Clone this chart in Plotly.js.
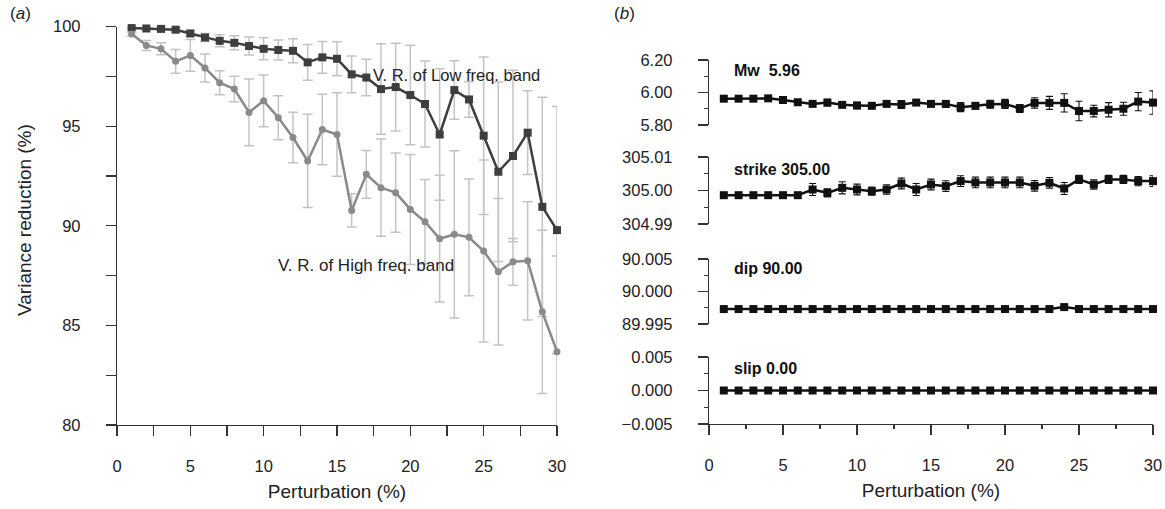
<!DOCTYPE html>
<html><head><meta charset="utf-8">
<script src="https://cdn.plot.ly/plotly-3.0.1.min.js"></script>
<style>html,body{margin:0;padding:0;background:#fff}#chart{width:1165px;height:509px}</style>
</head><body><div id="chart"></div>
<script>
// ---------- data ----------
const perturbation = [1,2,3,4,5,6,7,8,9,10,11,12,13,14,15,16,17,18,19,20,21,22,23,24,25,26,27,28,29,30];

// panel (a): variance reduction (%)
const lowVR   = [99.92,99.90,99.88,99.84,99.65,99.45,99.28,99.18,99.02,98.88,98.82,98.78,98.20,98.45,98.38,97.60,97.44,96.86,96.96,96.56,96.11,94.58,96.81,96.34,94.52,92.71,93.50,94.67,90.95,89.78];
const lowErr  = [0.05,0.05,0.08,0.10,0.15,0.20,0.30,0.35,0.45,0.55,0.50,0.60,0.90,0.80,0.85,0.92,0.92,2.27,2.20,2.50,2.16,3.30,1.47,0.89,3.95,4.50,4.30,2.10,5.50,6.20];
const highVR  = [99.62,99.05,98.88,98.25,98.55,97.92,97.18,96.86,95.69,96.27,95.42,94.43,93.25,94.83,94.58,90.77,92.58,91.91,91.66,90.82,90.20,89.35,89.57,89.42,88.73,87.69,88.19,88.24,85.68,83.68];
const highErr = [0.10,0.25,0.30,0.60,0.80,0.70,0.60,0.64,1.67,1.30,1.10,1.27,2.34,1.77,2.10,0.83,1.20,2.44,1.99,2.76,2.12,3.18,4.20,2.93,4.57,3.68,1.17,2.97,4.10,4.80];

// panel (b): source parameters
const mwVal  = [5.962,5.962,5.962,5.964,5.954,5.940,5.930,5.938,5.924,5.920,5.918,5.930,5.926,5.938,5.930,5.930,5.910,5.918,5.928,5.930,5.902,5.936,5.936,5.936,5.886,5.886,5.894,5.900,5.944,5.938];
const mwErr  = [0,0,0,0,0,0,0,0.020,0.014,0.020,0.016,0.010,0.024,0.016,0.016,0.020,0.028,0.020,0.024,0.028,0.024,0.032,0.040,0.056,0.060,0.036,0.044,0.040,0.056,0.072];
const strikeVal = [304.9986,304.9986,304.9986,304.9986,304.9986,304.9986,305.0003,304.9993,305.0008,305.0003,304.9998,305.0003,305.0021,305.0003,305.0018,305.0013,305.0028,305.0024,305.0024,305.0024,305.0024,305.0014,305.0023,305.0006,305.0033,305.0018,305.0033,305.0033,305.0028,305.0028];
const strikeErr = [0,0,0,0,0,0,0.0018,0.0012,0.0018,0.0016,0.0012,0.0014,0.0016,0.0018,0.0016,0.0016,0.0016,0.0016,0.0016,0.0016,0.0016,0.0016,0.0016,0.0018,0.0012,0.0014,0.0012,0.0012,0.0014,0.0016];
const dipVal  = [89.9973,89.9973,89.9973,89.9973,89.9973,89.9973,89.9973,89.9973,89.9973,89.9973,89.9973,89.9973,89.9973,89.9973,89.9973,89.9973,89.9973,89.9973,89.9973,89.9973,89.9973,89.9973,89.9973,89.9976,89.9973,89.9973,89.9973,89.9973,89.9973,89.9973];
const slipVal = [0,0,0,0,0,0,0,0,0,0,0,0,0,0,0,0,0,0,0,0,0,0,0,0,0,0,0,0,0,0];

const mwTicks = [5.8, 6.0, 6.2],         mwText = ["5.80","6.00","6.20"];
const strikeTicks = [304.99, 305.00, 305.01], strikeText = ["304.99","305.00","305.01"];
const dipTicks = [89.995, 90.000, 90.005], dipText = ["89.995","90.000","90.005"];
const slipTicks = [-0.005, 0, 0.005],   slipText = ["\u22120.005","0.000","0.005"];
const xTicksA = [0,5,10,15,20,25,30];
const yTicksA = [80,85,90,95,100];

// ---------- layout helpers ----------
const W = 1165, H = 509;
const fx = p => p / W;
const fy = p => (H - p) / H;
const FONT = "Liberation Sans, Arial, sans-serif";
const AX = "#333333";

const errA = (arr) => ({type:"data", array: arr, visible:true, color:"#c3c3c3", thickness:1.5, width:5});
const errB = (arr) => ({type:"data", array: arr, visible:true, color:"#111111", thickness:1.1, width:3.5});

const traces = [
  {x: perturbation, y: lowVR, error_y: errA(lowErr), mode:"lines+markers", cliponaxis:false,
   line:{color:"#3e3e3e", width:2.5}, marker:{symbol:"square", size:8, color:"#3e3e3e"}, xaxis:"x", yaxis:"y"},
  {x: perturbation, y: highVR, error_y: errA(highErr), mode:"lines+markers", cliponaxis:false,
   line:{color:"#8a8a8a", width:2.5}, marker:{symbol:"circle", size:7, color:"#8a8a8a"}, xaxis:"x", yaxis:"y"},
  {x: perturbation, y: mwVal, error_y: errB(mwErr), mode:"lines+markers", cliponaxis:false,
   line:{color:"#111", width:2.5}, marker:{symbol:"square", size:8, color:"#111"}, xaxis:"x2", yaxis:"y2"},
  {x: perturbation, y: strikeVal, error_y: errB(strikeErr), mode:"lines+markers", cliponaxis:false,
   line:{color:"#111", width:2.5}, marker:{symbol:"square", size:8, color:"#111"}, xaxis:"x3", yaxis:"y3"},
  {x: perturbation, y: dipVal, mode:"lines+markers", cliponaxis:false,
   line:{color:"#111", width:2.5}, marker:{symbol:"square", size:8, color:"#111"}, xaxis:"x4", yaxis:"y4"},
  {x: perturbation, y: slipVal, mode:"lines+markers", cliponaxis:false,
   line:{color:"#111", width:2.5}, marker:{symbol:"square", size:8, color:"#111"}, xaxis:"x5", yaxis:"y5"}
];

const tickFont = {family: FONT, size: 16.5, color:"#222"};
const hiddenX = (anchor) => ({domain:[fx(709), fx(1153)], range:[0,30], visible:false, anchor:anchor, fixedrange:true});
const yB = (top, bot, range, tv, tt, minorDtick, minorTick0) => ({
  domain:[fy(bot), fy(top)], range: range, tickmode:"array", tickvals: tv, ticktext: tt,
  showline:true, linecolor:AX, linewidth:1.2, ticks:"outside", ticklen:10, tickcolor:AX, tickwidth:1.2,
  showgrid:false, zeroline:false, tickfont: tickFont, ticklabelstandoff: 22,
  minor:{ticks:"outside", ticklen:4, tickcolor:AX, tickwidth:1.2, dtick:minorDtick, tick0:minorTick0, showgrid:false}
});

const layout = {
  width: W, height: H, margin:{l:0,r:0,t:0,b:0}, showlegend:false,
  paper_bgcolor:"#fff", plot_bgcolor:"rgba(0,0,0,0)", font:{family:FONT, color:"#222"},
  xaxis:{domain:[fx(117), fx(557)], range:[0,30], anchor:"y", tickmode:"array", tickvals:xTicksA,
    showline:true, linecolor:AX, linewidth:1.2, ticks:"outside", ticklen:10, tickcolor:AX, tickwidth:1.2,
    showgrid:false, zeroline:false, tickfont:tickFont, ticklabelstandoff: 16,
    minor:{ticks:"outside", ticklen:10, tickcolor:AX, tickwidth:1.2, dtick:2.5, tick0:0, showgrid:false},
    title:{text:"Perturbation (%)", font:{family:FONT, size:19, color:"#222"}, standoff:10}},
  yaxis:{domain:[fy(425), fy(26.5)], range:[80,100], anchor:"x", tickmode:"array", tickvals:yTicksA,
    showline:true, linecolor:AX, linewidth:1.2, ticks:"outside", ticklen:10, tickcolor:AX, tickwidth:1.2,
    showgrid:false, zeroline:false, tickfont:tickFont, ticklabelstandoff: 22,
    minor:{ticks:"outside", ticklen:10, tickcolor:AX, tickwidth:1.2, dtick:2.5, tick0:80, showgrid:false}},
  xaxis2: hiddenX("y2"), xaxis3: hiddenX("y3"), xaxis4: hiddenX("y4"),
  xaxis5:{domain:[fx(709), fx(1153)], range:[0,30], anchor:"y5", tickmode:"array", tickvals:xTicksA,
    showline:true, linecolor:AX, linewidth:1.2, ticks:"outside", ticklen:10, tickcolor:AX, tickwidth:1.2,
    showgrid:false, zeroline:false, tickfont:tickFont, ticklabelstandoff: 16,
    minor:{ticks:"outside", ticklen:4, tickcolor:AX, tickwidth:1.2, dtick:2.5, tick0:0, showgrid:false},
    title:{text:"Perturbation (%)", font:{family:FONT, size:19, color:"#222"}, standoff:10}},
  yaxis2: Object.assign(yB(60,125,[5.8,6.2], mwTicks, mwText, 0.1, 5.8), {anchor:"x2"}),
  yaxis3: Object.assign(yB(157,224,[304.99,305.01], strikeTicks, strikeText, 0.005, 304.99), {anchor:"x3"}),
  yaxis4: Object.assign(yB(259,324,[89.995,90.005], dipTicks, dipText, 0.0025, 89.995), {anchor:"x4"}),
  yaxis5: Object.assign(yB(357,424,[-0.005,0.005], slipTicks, slipText, 0.0025, -0.005), {anchor:"x5"}),
  annotations:[
    {xref:"paper", yref:"paper", x:fx(8), y:fy(14), xanchor:"left", yanchor:"middle", showarrow:false,
     text:"(<i>a</i>)", font:{family:FONT, size:17, color:"#222"}},
    {xref:"paper", yref:"paper", x:fx(612), y:fy(14), xanchor:"left", yanchor:"middle", showarrow:false,
     text:"(<i>b</i>)", font:{family:FONT, size:17, color:"#222"}},
    {xref:"paper", yref:"paper", x:fx(24), y:fy(220), xanchor:"center", yanchor:"middle", showarrow:false,
     textangle:-90, text:"Variance reduction (%)", font:{family:FONT, size:19, color:"#222"}},
    {xref:"paper", yref:"paper", x:fx(456), y:fy(75), xanchor:"center", yanchor:"middle", showarrow:false,
     text:"V. R. of Low freq. band", font:{family:FONT, size:16.5, color:"#222"}},
    {xref:"paper", yref:"paper", x:fx(366), y:fy(265), xanchor:"center", yanchor:"middle", showarrow:false,
     text:"V. R. of High freq. band", font:{family:FONT, size:17, color:"#222"}},
    {xref:"paper", yref:"paper", x:fx(732), y:fy(71), xanchor:"left", yanchor:"middle", showarrow:false,
     text:"<b>Mw  5.96</b>", font:{family:FONT, size:16, color:"#111"}},
    {xref:"paper", yref:"paper", x:fx(732), y:fy(169), xanchor:"left", yanchor:"middle", showarrow:false,
     text:"<b>strike 305.00</b>", font:{family:FONT, size:16, color:"#111"}},
    {xref:"paper", yref:"paper", x:fx(732), y:fy(268), xanchor:"left", yanchor:"middle", showarrow:false,
     text:"<b>dip 90.00</b>", font:{family:FONT, size:16, color:"#111"}},
    {xref:"paper", yref:"paper", x:fx(732), y:fy(368), xanchor:"left", yanchor:"middle", showarrow:false,
     text:"<b>slip 0.00</b>", font:{family:FONT, size:16, color:"#111"}}
  ]
};

Plotly.newPlot("chart", traces, layout, {staticPlot:true, displayModeBar:false});
</script></body></html>
